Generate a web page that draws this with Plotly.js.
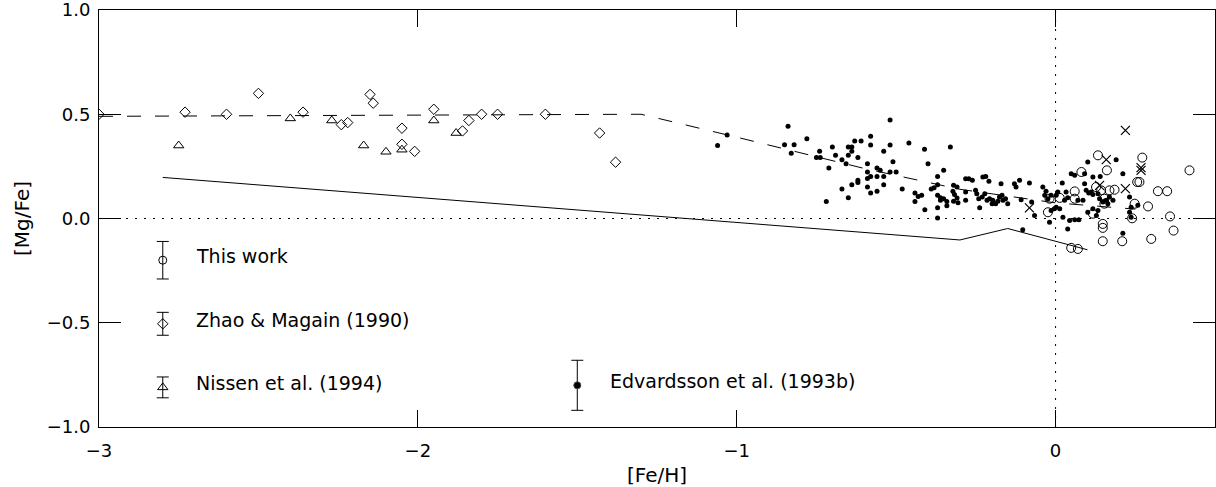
<!DOCTYPE html>
<html>
<head>
<meta charset="utf-8">
<script src="https://cdn.plot.ly/plotly-3.0.1.min.js"></script>
<style>html,body{margin:0;padding:0;background:#fff;}#chart{width:1216px;height:487px;}</style>
</head>
<body>
<div id="chart"></div>
<script>
// Zhao & Magain (1990) - diamonds
const zhaoFe = [-3.0, -2.73, -2.60, -2.50, -2.36, -2.24, -2.22, -2.15, -2.14, -2.05, -2.05, -2.01, -1.95, -1.86, -1.84, -1.80, -1.75, -1.60, -1.43, -1.38];
const zhaoMg = [0.50, 0.51, 0.50, 0.60, 0.51, 0.45, 0.46, 0.595, 0.553, 0.433, 0.356, 0.322, 0.524, 0.42, 0.47, 0.50, 0.50, 0.50, 0.41, 0.27];

// Nissen et al. (1994) - triangles
const nissenFe = [-2.75, -2.40, -2.27, -2.17, -2.10, -2.05, -1.95, -1.88];
const nissenMg = [0.35, 0.48, 0.47, 0.35, 0.32, 0.33, 0.47, 0.41];

// Edvardsson et al. (1993b) - filled dots
const edvFe = [-1.06,-1.03,
 -0.839,-0.850,-0.820,-0.829,-0.780,-0.740,-0.750,-0.738,-0.700,-0.690,-0.670,-0.657,-0.711,-0.650,-0.639,-0.630,-0.610,-0.639,-0.650,-0.620,-0.670,-0.650,-0.639,-0.620,-0.620,-0.719,-0.580,-0.580,-0.590,-0.590,-0.590,-0.580,-0.560,-0.550,-0.560,-0.539,-0.539,-0.519,-0.519,-0.510,-0.519,-0.500,-0.590,-0.560,-0.580,-0.539,-0.481,-0.460,-0.411,-0.400,-0.351,-0.370,-0.330,-0.441,-0.431,-0.441,-0.420,-0.410,-0.370,-0.381,-0.390,-0.370,-0.361,-0.351,-0.361,-0.370,-0.370,-0.341,-0.341,
 -0.320,-0.309,-0.322,-0.317,-0.309,-0.320,-0.306,-0.282,-0.272,-0.261,-0.282,-0.282,-0.251,-0.247,-0.241,-0.238,-0.228,-0.219,-0.209,-0.230,-0.222,-0.215,-0.207,-0.199,-0.188,-0.197,-0.171,-0.176,-0.168,-0.165,-0.181,-0.157,-0.150,-0.129,-0.113,-0.124,-0.108,-0.082,-0.040,-0.030,-0.034,-0.024,-0.075,-0.066,-0.019,-0.103,
 0.101,0.049,0.060,0.091,0.021,0.091,0.190,0.211,0.117,0.140,0.007,0.002,-0.014,0.033,0.038,0.028,0.096,0.104,0.112,0.117,0.070,0.086,0.133,0.138,0.148,0.159,0.164,0.169,0.180,0.232,0.258,-0.004,-0.014,0.002,0.013,0.023,0.044,0.060,0.073,0.101,0.117,0.133,0.128,0.038,0.237,0.232,0.237,0.211];
const edvMg = [0.35,0.40,
 0.442,0.354,0.354,0.313,0.383,0.322,0.292,0.292,0.343,0.303,0.282,0.263,0.242,0.343,0.343,0.372,0.372,0.322,0.303,0.292,0.141,0.100,0.162,0.183,0.173,0.082,0.394,0.352,0.263,0.223,0.192,0.202,0.242,0.231,0.202,0.202,0.322,0.473,0.352,0.272,0.223,0.223,0.151,0.131,0.122,0.162,0.141,0.362,0.332,0.263,0.231,0.202,0.343,0.122,0.106,0.082,0.111,0.042,0.162,0.148,0.141,0.111,0.099,0.095,0.087,0.051,0.002,0.082,0.061,
 0.159,0.151,0.131,0.115,0.098,0.083,0.075,0.191,0.191,0.183,0.127,0.087,0.135,0.119,0.095,0.051,0.199,0.202,0.179,0.103,0.119,0.087,0.095,0.071,0.071,0.087,0.167,0.103,0.111,0.087,0.083,0.095,0.071,0.167,0.183,0.151,0.090,0.170,0.151,0.131,0.111,0.095,0.079,0.014,-0.018,-0.054,
 0.271,0.215,0.207,0.215,0.170,0.167,0.282,0.215,0.199,0.202,0.127,0.111,0.111,0.127,0.099,0.087,0.135,0.122,0.127,0.115,0.087,0.087,0.119,0.095,0.079,0.087,0.071,0.103,0.087,0.103,0.063,0.047,0.038,0.054,0.047,0.006,-0.010,-0.006,-0.006,0.030,0.047,0.038,0.014,-0.050,0.054,0.030,0.006,-0.071];

// This work - open circles
const thisFe = [0.133,0.081,0.161,0.272,0.256,0.263,0.060,0.060,0.143,0.169,0.185,0.153,0.153,-0.019,0.248,0.290,0.240,0.148,0.148,0.148,0.209,0.049,0.070,0.300,0.420,0.321,0.350,0.359,0.370,-0.024,0.013,0.117,0.127];
const thisMg = [0.303,0.223,0.231,0.292,0.175,0.175,0.130,0.095,0.135,0.135,0.138,0.095,0.071,0.095,0.071,0.058,0.001,-0.026,-0.045,-0.109,-0.109,-0.141,-0.146,-0.098,0.231,0.131,0.131,0.010,-0.058,0.030,0.099,0.023,0.151];

// Crosses (other stars)
const crossFe = [0.219,0.159,0.268,0.268,0.138,0.219,-0.082];
const crossMg = [0.423,0.282,0.244,0.231,0.159,0.143,0.051];

// Model curves
const dashFe = [-3.0,-1.3,-1.0,-0.85,-0.6,-0.3,0.0,0.25];
const dashMg = [0.49,0.50,0.39,0.334,0.24,0.14,0.075,0.045];
const solidFe = [-2.8,-0.30,-0.15,0.10];
const solidMg = [0.197,-0.103,-0.048,-0.15];

// Legend key: label, sample position and typical error
const keyLabels = ["This work","Zhao & Magain (1990)","Nissen et al. (1994)","Edvardsson et al. (1993b)"];
const keySymbols = ["circle-open","diamond-open","triangle-up-open","circle"];
const keyFe = [-2.80,-2.80,-2.80,-1.50];
const keyMg = [-0.20,-0.505,-0.81,-0.80];
const keyErr = [0.09,0.055,0.05,0.12];
const keySizes = [8,8,9,7];

const font = "DejaVu Sans, sans-serif";
const traces = [];
traces.push({x: dashFe, y: dashMg, mode:'lines', line:{color:'#000', width:1, dash:'14px,14px'}, hoverinfo:'skip'});
traces.push({x: solidFe, y: solidMg, mode:'lines', line:{color:'#000', width:1}, hoverinfo:'skip'});
traces.push({x: zhaoFe, y: zhaoMg, mode:'markers', marker:{symbol:'diamond-open', size:8, color:'#000', line:{width:1}}});
traces.push({x: nissenFe, y: nissenMg, mode:'markers', marker:{symbol:'triangle-up-open', size:9, color:'#000', line:{width:1}}});
traces.push({x: edvFe, y: edvMg, mode:'markers', marker:{symbol:'circle', size:5, color:'#000'}});
traces.push({x: thisFe, y: thisMg, mode:'markers', marker:{symbol:'circle-open', size:9, color:'#000', line:{width:1}}});
traces.push({x: crossFe, y: crossMg, mode:'markers', marker:{symbol:'x-thin-open', size:9, color:'#000', line:{width:1.2, color:'#000'}}});
for (let i = 0; i < keyLabels.length; i++) {
  traces.push({x:[keyFe[i]], y:[keyMg[i]], mode:'markers',
    marker:{symbol:keySymbols[i], size:keySizes[i], color:'#000', line:{width:1}},
    error_y:{type:'data', array:[keyErr[i]], visible:true, color:'#000', thickness:1, width:6}});
}

const annotations = keyLabels.map((t, i) => ({
  x: keyFe[i], y: keyMg[i], xref:'x', yref:'y', text: t, showarrow:false,
  xanchor:'left', yanchor:'middle', xshift: 31, yshift: 4,
  font:{family:font, size:19, color:'#000'}
}));

const layout = {
  width:1216, height:487,
  margin:{l:99, r:1, t:10, b:60},
  paper_bgcolor:'#fff', plot_bgcolor:'#fff',
  showlegend:false,
  font:{family:font, size:18, color:'#000'},
  xaxis:{range:[-3,0.5], tickvals:[-3,-2,-1,0], ticktext:['−3','−2','−1','0'],
    ticks:'inside', ticklen:17, tickwidth:1, tickcolor:'#000',
    showline:true, linecolor:'#000', linewidth:1, mirror:'ticks',
    showgrid:false, zeroline:false, ticklabelstandoff:7, ticklabeloverflow:'allow',
    tickfont:{family:font, size:18},
    title:{text:'[Fe/H]', font:{family:font, size:20}, standoff:8}},
  yaxis:{range:[-1,1], tickvals:[-1,-0.5,0,0.5,1], ticktext:['−1.0','−0.5','0.0','0.5','1.0'],
    ticks:'inside', ticklen:22, tickwidth:1, tickcolor:'#000',
    showline:true, linecolor:'#000', linewidth:1, mirror:'ticks',
    showgrid:false, zeroline:false, ticklabelstandoff:4, ticklabeloverflow:'allow',
    tickfont:{family:font, size:18},
    title:{text:'[Mg/Fe]', font:{family:font, size:20}, standoff:11}},
  shapes:[
    {type:'line', xref:'x', yref:'y', x0:-3, x1:0.5, y0:0, y1:0, line:{color:'#000', width:1, dash:'2px,7px'}, layer:'below'},
    {type:'line', xref:'x', yref:'y', x0:0, x1:0, y0:-1, y1:1, line:{color:'#000', width:1, dash:'2px,7px'}, layer:'below'}
  ],
  annotations: annotations
};

Plotly.newPlot('chart', traces, layout, {displayModeBar:false, staticPlot:true});
</script>
</body>
</html>
